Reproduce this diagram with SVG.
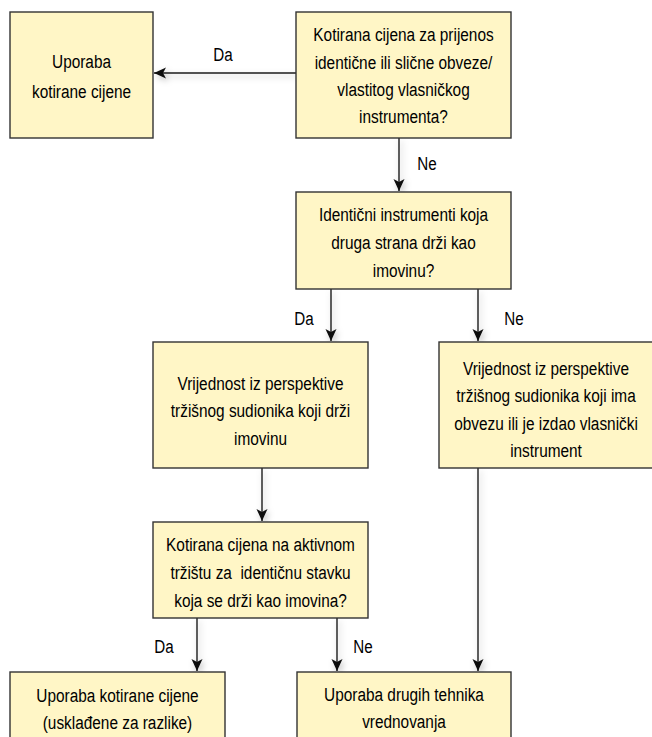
<svg xmlns="http://www.w3.org/2000/svg" width="652" height="737" viewBox="0 0 652 737">
<style>
.box{fill:#FFF6C6;stroke:#333;stroke-width:1.4}
.t{font-family:"Liberation Sans",Arial,sans-serif;font-size:19px;fill:#000;text-anchor:middle}
.c{stroke:#1a1a1a;stroke-width:1.4;fill:none;marker-end:url(#ah)}
</style>
<defs>
<marker id="ah" markerUnits="userSpaceOnUse" markerWidth="14" markerHeight="12" refX="12" refY="5.5" orient="auto">
<path d="M0,0 L12,5.5 L0,11 L3,5.5 Z" fill="#111"/>
</marker>
<filter id="sh" filterUnits="userSpaceOnUse" x="0" y="0" width="652" height="737">
<feDropShadow dx="2" dy="3" stdDeviation="3" flood-color="#000" flood-opacity="0.25"/>
</filter>
</defs>
<rect width="652" height="737" fill="#fff"/>

<g id="connectors" filter="url(#sh)">
<line class="c" x1="296" y1="73" x2="154" y2="73"/>
<line class="c" x1="399" y1="138" x2="399" y2="191"/>
<line class="c" x1="331" y1="289" x2="331" y2="341"/>
<line class="c" x1="478" y1="289" x2="478" y2="341"/>
<line class="c" x1="262" y1="468" x2="262" y2="521"/>
<line class="c" x1="478" y1="468" x2="478" y2="671"/>
<line class="c" x1="197" y1="618" x2="197" y2="671"/>
<line class="c" x1="337" y1="618" x2="337" y2="671"/>
</g>

<g id="labels">
<g transform="translate(223,0) scale(0.8,1)"><text class="t" x="0" y="61">Da</text></g>
<g transform="translate(427,0) scale(0.8,1)"><text class="t" x="0" y="170">Ne</text></g>
<g transform="translate(304,0) scale(0.8,1)"><text class="t" x="0" y="325">Da</text></g>
<g transform="translate(514,0) scale(0.8,1)"><text class="t" x="0" y="325">Ne</text></g>
<g transform="translate(164,0) scale(0.8,1)"><text class="t" x="0" y="653">Da</text></g>
<g transform="translate(363,0) scale(0.8,1)"><text class="t" x="0" y="653">Ne</text></g>
</g>

<g id="n1">
<rect class="box" x="10" y="12" width="143" height="126"/>
<g transform="translate(81.5,0) scale(0.81,1)">
<text class="t" x="0" y="68">Uporaba</text>
<text class="t" x="0" y="98">kotirane cijene</text>
</g>
</g>

<g id="n2">
<rect class="box" x="296" y="12" width="215" height="126"/>
<g transform="translate(403.5,0) scale(0.81,1)">
<text class="t" x="0" y="41">Kotirana cijena za prijenos</text>
<text class="t" x="0" y="69">identične ili slične obveze/</text>
<text class="t" x="0" y="96">vlastitog vlasničkog</text>
<text class="t" x="0" y="123">instrumenta?</text>
</g>
</g>

<g id="n3">
<rect class="box" x="296" y="192" width="215" height="97"/>
<g transform="translate(403.5,0) scale(0.81,1)">
<text class="t" x="0" y="221">Identični instrumenti koja</text>
<text class="t" x="0" y="249">druga strana drži kao</text>
<text class="t" x="0" y="277">imovinu?</text>
</g>
</g>

<g id="n4">
<rect class="box" x="153" y="342" width="215" height="126"/>
<g transform="translate(260.5,0) scale(0.81,1)">
<text class="t" x="0" y="390">Vrijednost iz perspektive</text>
<text class="t" x="0" y="417">tržišnog sudionika koji drži</text>
<text class="t" x="0" y="445">imovinu</text>
</g>
</g>

<g id="n5">
<rect class="box" x="439" y="342" width="215" height="126"/>
<g transform="translate(546,0) scale(0.81,1)">
<text class="t" x="0" y="375">Vrijednost iz perspektive</text>
<text class="t" x="0" y="402">tržišnog sudionika koji ima</text>
<text class="t" x="0" y="430">obvezu ili je izdao vlasnički</text>
<text class="t" x="0" y="457">instrument</text>
</g>
</g>

<g id="n6">
<rect class="box" x="153" y="522" width="215" height="96"/>
<g transform="translate(260.5,0) scale(0.81,1)">
<text class="t" x="0" y="551">Kotirana cijena na aktivnom</text>
<text class="t" x="0" y="579" xml:space="preserve">tržištu za  identičnu stavku</text>
<text class="t" x="0" y="607">koja se drži kao imovina?</text>
</g>
</g>

<g id="n7">
<rect class="box" x="10" y="672" width="215" height="80"/>
<g transform="translate(117.5,0) scale(0.81,1)">
<text class="t" x="0" y="702">Uporaba kotirane cijene</text>
<text class="t" x="0" y="729">(usklađene za razlike)</text>
</g>
</g>

<g id="n8">
<rect class="box" x="297" y="672" width="214" height="80"/>
<g transform="translate(404,0) scale(0.81,1)">
<text class="t" x="0" y="701">Uporaba drugih tehnika</text>
<text class="t" x="0" y="728">vrednovanja</text>
</g>
</g>
</svg>
